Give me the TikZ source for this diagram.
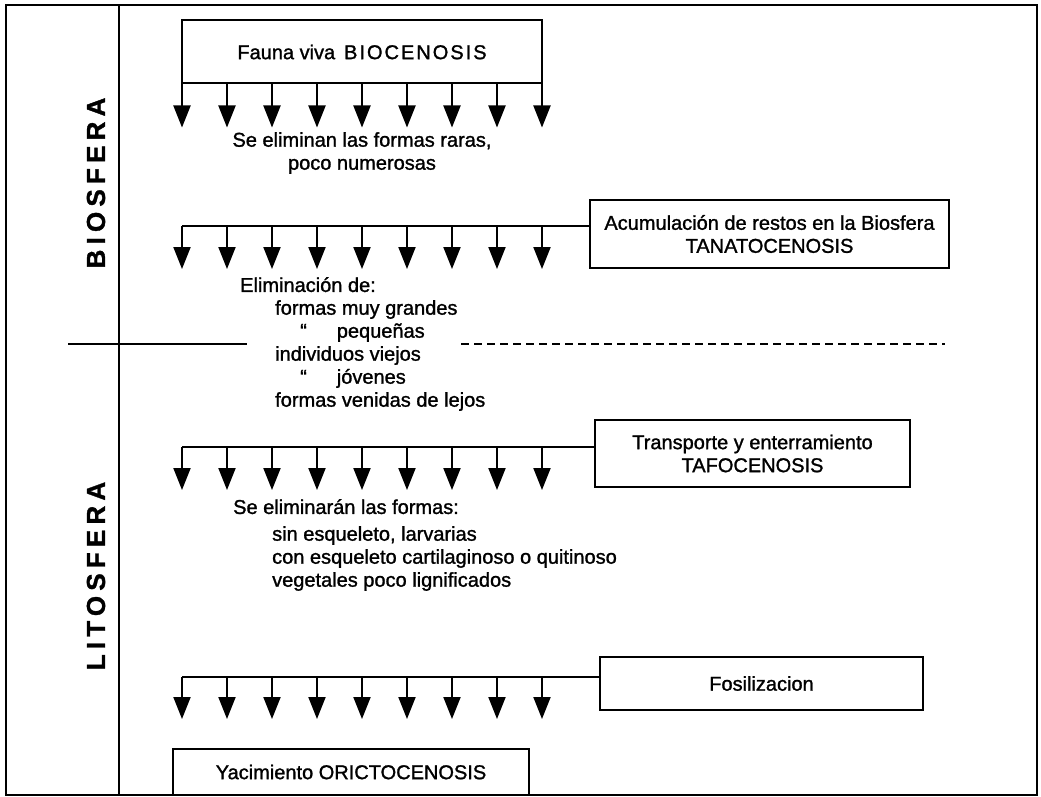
\documentclass[tikz,border=0pt]{standalone}
\usepackage{fontspec}
\setmainfont{Liberation Sans}[FakeBold=1.3]
\usetikzlibrary{arrows.meta,positioning}
\begin{document}
\begin{tikzpicture}[
    x=1pt, y=-1pt,
    every node/.style={font=\fontsize{20}{23}\selectfont},
    box/.style={rectangle, draw, line width=2pt, inner sep=0pt, outer sep=0pt, align=center},
    note/.style={inner sep=0pt, align=left},
    sphere/.style={rotate=90, inner sep=0pt, font=\fontsize{26}{30}\selectfont\bfseries\addfontfeature{LetterSpace=20}},
    stem/.style={line width=2pt, -{Triangle[width=17pt,length=22pt]}},
    rule/.style={line width=2pt}
]
\useasboundingbox (0,0) rectangle (1041,797);

% Frame
\draw[rule] (6,5) rectangle (1037,795);
\draw[rule] (119,5) -- (119,795);

% Spheres
\node[sphere] (bio) at (96,183) {BIOSFERA};
\node[sphere] (lito) at (96,576) {LITOSFERA};

% Boxes
\node[box, minimum width=360pt, minimum height=63pt] (biocen) at (362,52) {Fauna viva\, {\addfontfeature{LetterSpace=10}BIOCENOSIS}};
\node[box, minimum width=359pt, minimum height=68pt] (tanato) at (769.5,234) {Acumulación de restos en la Biosfera\\TANATOCENOSIS};
\node[box, minimum width=315pt, minimum height=67pt] (tafo) at (752.5,453.5) {Transporte y enterramiento\\TAFOCENOSIS};
\node[box, minimum width=323pt, minimum height=53pt] (fosil) at (761.5,683.5) {Fosilizacion};
\node[box, minimum width=356pt, minimum height=46pt] (orict) at (351,772) {Yacimiento ORICTOCENOSIS};

% Rows of arrows
\coordinate (r2) at (182,226);
\coordinate (r3) at (182,447);
\coordinate (r4) at (182,677);
\draw[rule] (r2) -- (r2 -| tanato.west);
\draw[rule] (r3) -- (r3 -| tafo.west);
\draw[rule] (r4) -- (r4 -| fosil.west);
\foreach \i in {0,...,8} {
    \draw[stem] ([xshift=\i*45pt]biocen.south west) -- ++(0,44);
    \draw[stem] ([xshift=\i*45pt]r2) -- ++(0,43);
    \draw[stem] ([xshift=\i*45pt]r3) -- ++(0,43);
    \draw[stem] ([xshift=\i*45pt]r4) -- ++(0,42);
}

% Biosfera / Litosfera limit
\coordinate (sepL) at (68,344);
\coordinate (sepM) at (247,344);
\coordinate (dashL) at (461,344);
\coordinate (dashR) at (945,344);
\draw[rule] (sepL) -- (sepM);
\draw[rule, dash pattern=on 8pt off 5pt] (dashL) -- (dashR);

% Notes
\node[note, align=center, anchor=north] (raras) at (362,132) {Se eliminan las formas raras,\\poco numerosas};
\node[note, anchor=north west] (elim) at (240,277) {Eliminación de:};
\node[note, anchor=north west] (elimlist) at (275,300) {formas muy grandes\\
    \hspace*{25pt}“\hspace{30pt}pequeñas\\
    individuos viejos\\
    \hspace*{25pt}“\hspace{30pt}jóvenes\\
    formas venidas de lejos};
\node[note, anchor=north west] (forma) at (233,499) {Se eliminarán las formas:};
\node[note, anchor=north west] (formalist) at (272,526) {sin esqueleto, larvarias\\
    con esqueleto cartilaginoso o quitinoso\\
    vegetales poco lignificados};

\end{tikzpicture}
\end{document}
